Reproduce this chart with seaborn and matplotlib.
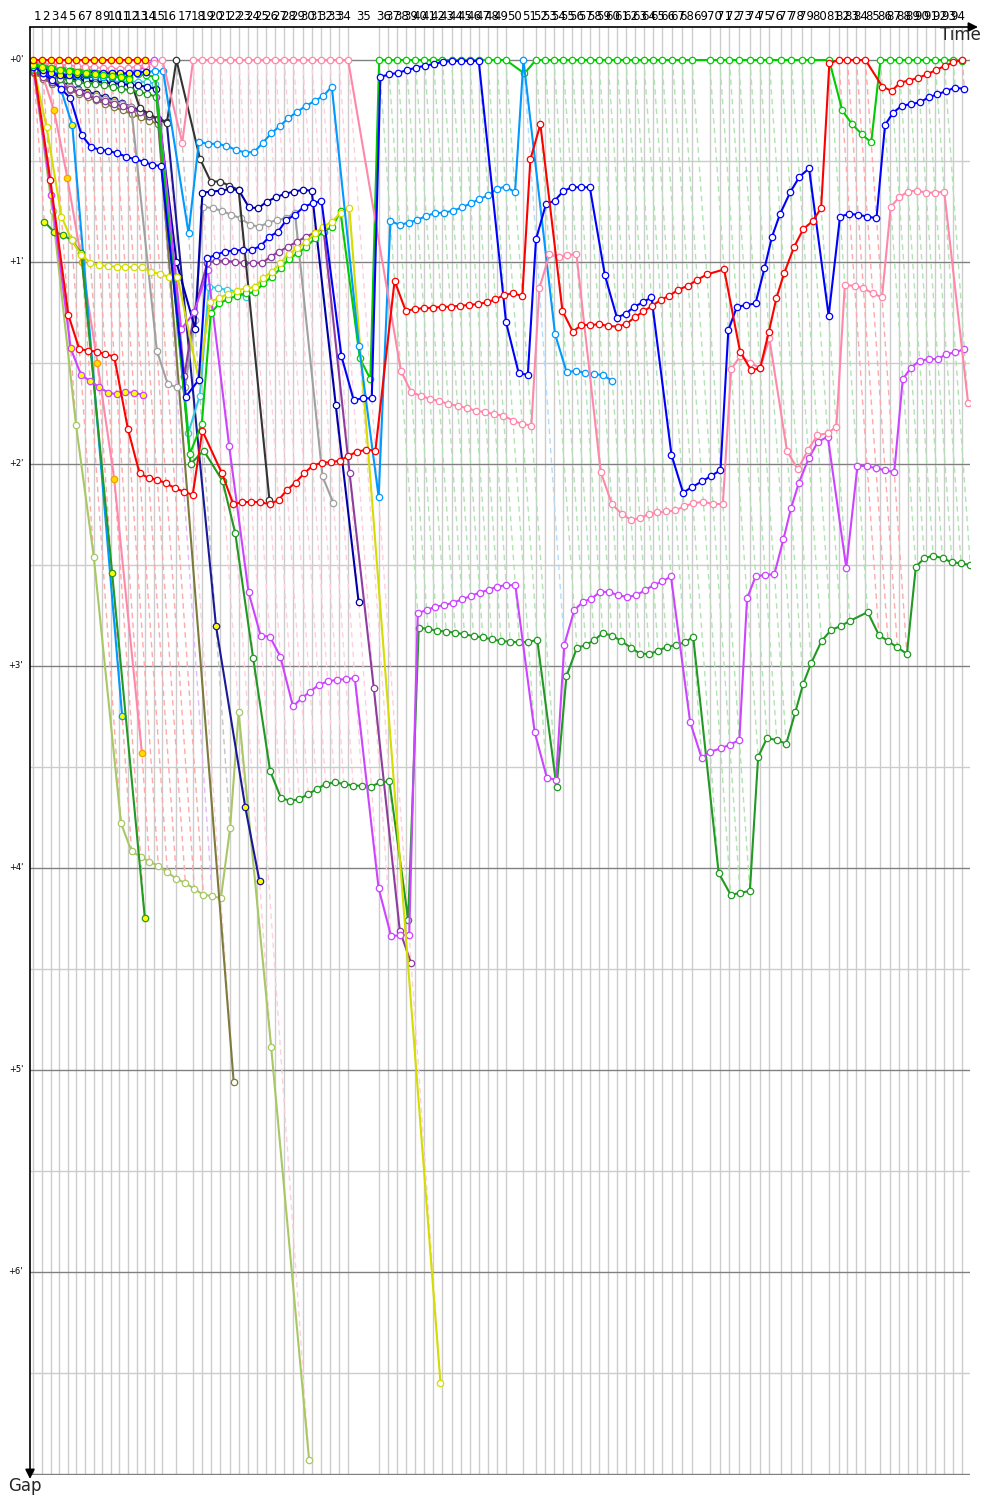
import matplotlib
matplotlib.use("Agg")
import matplotlib.pyplot as plt
import numpy as np
import pandas as pd
import seaborn as sns
from matplotlib.collections import LineCollection

# ---------------- data ----------------
# leader lap durations (seconds), laps 1..94
lap_seconds = [38.0,
               36.6, 36.5, 36.7, 36.6, 36.6, 36.5, 36.7, 36.6, 36.6, 36.5, 36.7, 36.6, 36.6, 36.6,
               60.0, 71.0,
               38.8, 38.9, 38.7, 38.8, 38.8, 38.9, 38.7, 38.8, 38.8, 38.8, 38.9, 38.7, 38.8, 38.8, 38.9, 38.7, 38.8,
               132.0,
               38.5, 38.4, 38.6, 38.5, 38.5, 38.4, 38.6, 38.5, 38.5, 38.4, 38.6, 38.5, 38.5, 38.5,
               75.0, 53.0,
               38.3, 38.2, 38.4, 38.3, 38.3, 38.2, 38.4, 38.3, 38.3, 38.2, 38.4, 38.3, 38.3, 38.3,
               45.0, 40.0, 42.5, 75.0, 43.5, 41.0, 39.0, 48.5, 41.5, 40.5, 50.0, 44.0, 43.5, 39.5, 78.0,
               41.0, 37.0, 38.3, 38.3, 64.0,
               38.7, 38.6, 38.8, 38.7, 38.7, 38.6, 38.8, 38.7, 38.7]

# gaps to leader (seconds), one value per lap starting at lap 0
olive_light = [3.0, 45.0, 108.4, 147.6, 226.7, 235.1, 236.6, 238.1, 239.4, 241.3, 243.2, 244.5,
               246.2, 248.0, 248.3, 249.0, 228.2, 193.8, 293.1, 415.8]
olive_brown = [4.0, 5.5, 7.0, 8.0, 9.0, 10.0, 11.0, 12.0, 13.0, 14.0, 15.0, 16.0, 17.0, 18.0, 19.0, 303.5]
pink_yellow = [2.0, 5.0, 15.0, 35.0, 60.0, 90.0, 124.5, 205.9]
lb_yellow = [2.0, 3.0, 5.0, 9.0, 19.3, 195.0]
fg_yellow = [48.0, 51.0, 52.0, 53.5, 57.4, 152.4, 254.9]
mag_yellow = [3.0, 40.0, 85.6, 93.6, 95.3, 97.2, 98.8, 99.3, 98.7, 98.8, 99.5]
navy_yellow = [3.0, 3.5, 6.4, 6.7, 7.4, 8.7, 9.4, 10.2, 10.9, 11.9, 12.9, 13.9, 14.9, 16.6, 17.5, 18.3,
               168.0, 222.0, 244.0]
grey = [3.0, 4.5, 6.0, 7.0, 8.0, 9.0, 10.0, 10.8, 11.6, 12.4, 13.2, 14.0,
        86.3, 96.3, 97.2, 97.2, 77.2,
        43.6, 44.0, 44.8, 46.0, 47.0, 49.0, 49.5, 48.3, 47.5, 47.0, 45.3, 123.7, 131.7]
purple = [3.5, 5.0, 6.5, 7.5, 8.5, 9.5, 10.5, 11.5, 12.2, 13.0, 13.8, 14.6, 15.5, 16.5, 17.5,
          94.0, 75.0,
          60.2, 59.6, 59.7, 59.9, 60.4, 60.2, 60.3, 58.4, 56.9, 55.4, 54.0, 52.5, 51.3, 50.0,
          122.8, 186.4, 258.6, 268.3]
teal = [2.0, 3.0, 4.0, 4.5, 5.0, 5.5, 6.0, 6.2, 6.4, 6.4, 6.5, 6.5, 6.4, 6.5, 7.0,
        110.7, 99.7, 67.3, 67.8, 68.3, 68.8, 70.5]
black = [2.0, 3.0, 4.0, 4.5, 5.0, 5.0, 5.0, 5.0, 5.0, 5.0, 5.0, 5.0,
         14.3, 16.0, 17.5, 18.8, 0.0, 29.4, 36.1, 36.1, 37.3, 38.6, 130.7]
navy = [2.5, 3.5, 4.5, 5.0, 5.5, 6.0, 6.0, 6.5, 6.5, 7.0, 7.0, 7.5, 7.5, 8.0, 8.5,
        60.0, 80.0,
        39.4, 39.1, 38.8, 38.4, 38.6, 43.8, 44.0, 42.1, 40.8, 39.8, 39.1, 38.6, 38.8,
        102.5, 161.0]
forest = [3.0, 4.0, 5.0, 5.5, 6.0, 6.5, 7.0, 7.0, 7.5, 8.0, 8.5, 9.0, 9.5, 10.0, 11.0,
          120.0, 116.0, 125.0,
          140.6, 177.7, 211.2, 219.3, 220.0, 219.6, 218.0, 216.6, 215.0, 214.6, 215.0, 215.5, 215.6, 215.8,
          214.5, 214.3, 255.4,
          168.6, 169.0, 169.5, 169.8, 170.1, 170.6, 171.1, 171.5, 172.1, 172.6, 172.8, 173.0, 172.8, 172.3,
          216.0, 183.0,
          174.6, 173.8, 172.3, 170.2, 171.0, 172.6, 174.6, 176.4, 176.4, 175.5, 174.3, 173.8, 173.0, 171.4,
          241.5, 248.0, 247.4, 246.8,
          207.0, 201.4, 202.0, 203.1, 193.6, 185.3, 179.1, 172.6, 169.3, 168.1, 166.6, 164.0,
          170.8, 172.6, 174.5, 176.4,
          150.5, 148.0, 147.2, 148.0, 149.2, 149.5, 150.0]
magenta = [1.0, 2.0, 2.5, 3.0, 3.0, 3.2, 3.4, 3.6, 3.8, 4.0, 4.0, 3.8, 3.0, 2.0,
           0.0, 80.0, 75.0,
           62.4, 114.8, 158.1, 171.0, 171.3, 177.2, 192.0, 189.6, 187.6, 185.6, 184.6, 184.1, 183.9, 183.6,
           246.0, 260.2, 260.0, 259.9,
           164.3, 163.4, 162.4, 161.9, 161.2, 160.2, 159.2, 158.2, 157.4, 156.4, 156.0, 156.0,
           199.6, 213.2, 213.8,
           173.7, 163.4, 161.0, 160.0, 158.0, 158.0, 159.0, 159.5, 159.0, 157.5, 156.0, 154.9, 153.4,
           196.6, 207.3, 205.5, 204.5, 203.4, 202.0,
           159.9, 153.3, 153.0, 152.7, 142.4, 133.2, 125.7, 118.3, 113.4, 111.9,
           150.8, 120.6, 120.6, 121.3, 121.8, 122.5,
           94.8, 91.4, 89.3, 88.9, 88.8, 87.4, 86.8, 85.9]
green = [1.0, 1.5, 2.0, 2.2, 2.5, 2.8, 3.0, 3.2, 3.5, 3.7, 4.0, 4.2, 4.3, 4.5, 5.0,
         117.0, 108.0, 75.2,
         72.3, 71.0, 70.0, 69.3, 69.0, 66.3, 64.4, 61.9, 59.0, 57.4, 55.5, 53.0, 51.0, 49.5,
         45.0, 88.6, 94.8,
         0.0, 0.0, 0.0, 0.0, 0.0, 0.0, 0.0, 0.0, 0.0, 0.0, 0.0, 0.0, 0.0, 0.0, 0.0,
         4.0,
         0.0, 0.0, 0.0, 0.0, 0.0, 0.0, 0.0, 0.0, 0.0, 0.0, 0.0, 0.0, 0.0, 0.0, 0.0,
         0.0, 0.0, 0.0, 0.0, 0.0, 0.0, 0.0, 0.0, 0.0, 0.0, 0.0, 0.0, 0.0, 0.0, 0.0,
         15.0, 19.0, 22.0, 24.5,
         0.0, 0.0, 0.0, 0.0, 0.0, 0.0, 0.0, 0.0, 0.0, 0.2]
yellow = [2.0, 20.0, 46.5, 53.5, 58.0, 60.2, 60.9, 61.2, 61.4, 61.4, 61.6, 61.6, 62.9, 63.6, 64.4, 64.4,
          95.0,
          71.8, 70.8, 69.5, 68.5, 67.8, 67.5, 64.8, 62.9, 60.4, 57.5, 55.9, 54.0, 51.5, 49.5, 48.0, 45.4, 44.0,
          392.9]
light_blue = [1.5, 2.5, 3.5, 4.0, 4.2, 4.4, 4.6, 4.8, 5.0, 5.0, 4.5, 4.0, 3.6, 3.5, 3.3, 3.2,
              51.5,
              24.3, 24.9, 24.9, 25.5, 26.7, 27.5, 27.3, 24.6, 21.8, 19.6, 17.3, 15.4, 13.7, 12.2, 10.7, 7.9,
              85.1, 129.8,
              47.8, 49.0, 48.3, 47.5, 46.3, 45.5, 45.3, 44.8, 43.8, 42.6, 41.4, 40.1, 38.3, 37.6, 39.3,
              0.0,
              81.4, 92.8, 92.3, 92.9, 93.3, 93.6, 95.3]
pink = [0.5, 1.0, 1.2, 1.4, 1.6, 1.8, 2.0, 2.2, 2.4, 2.6, 2.6, 2.4, 2.0, 1.5, 1.0,
        0.0, 24.6,
        0.0, 0.0, 0.0, 0.0, 0.0, 0.0, 0.0, 0.0, 0.0, 0.0, 0.0, 0.0, 0.0, 0.0, 0.0, 0.0, 0.0, 0.0,
        92.3, 98.7, 99.7, 100.7, 101.3, 102.2, 102.7, 103.4, 104.2, 104.6, 105.2, 105.6, 107.1, 108.1, 108.6,
        67.8, 57.7, 58.6, 57.9, 57.7,
        122.3, 131.9, 134.8, 136.6, 136.1, 134.9, 134.4, 134.1, 133.8, 132.6, 131.7, 131.2, 131.9, 131.9,
        91.9, 87.9, 89.9, 91.6, 82.7,
        116.1, 121.6, 115.8, 111.4, 110.9, 108.9,
        66.8, 67.1, 67.8, 69.3, 70.5,
        43.6, 40.8, 39.1, 38.8, 39.4, 39.4, 39.1,
        102.0]
blue = [1.5, 4.0, 6.0, 8.5,
        11.4, 22.3, 25.8, 26.7, 27.0, 27.7, 28.7, 29.5, 30.2, 31.2, 31.5,
        100.0, 95.0,
        58.9, 57.9, 56.9, 56.6, 56.4, 56.4, 55.2, 52.5, 51.0, 47.5, 46.0, 43.6, 42.6, 41.8,
        88.0, 101.0, 100.5, 100.5,
        5.0, 4.3, 3.8, 3.0, 2.3, 1.7, 1.2, 0.6, 0.3, 0.3, 0.3, 0.3,
        77.9, 92.9, 93.6,
        53.3, 42.8, 41.8, 39.0, 37.8, 37.8, 37.8,
        64.0, 76.5, 75.4, 73.3, 72.0, 70.5,
        117.3, 128.5, 126.9, 125.2, 123.6, 121.8,
        80.2, 73.3, 72.8, 72.3, 61.9, 52.5, 45.8, 39.3, 34.7, 32.2,
        76.0,
        46.5, 45.7, 46.0, 46.5, 47.0,
        19.3, 15.6, 13.6, 13.1, 12.6, 11.1, 10.2, 9.2, 8.2, 8.6]
red = [1.0, 35.6, 75.7, 85.9, 86.3, 86.6, 87.4, 88.1, 109.6, 122.8, 124.1, 124.7, 125.7, 127.2, 128.2, 129.2,
       110.1, 122.8, 131.9, 131.4, 131.2, 131.4, 131.9, 130.7, 127.7, 125.5, 122.8, 120.5, 119.6, 119.5,
       119.0, 117.6, 116.3, 115.8, 116.0,
       65.6, 74.5, 74.0, 73.7, 73.6, 73.3, 73.3, 73.0, 72.8, 72.5, 72.0, 71.1, 69.8, 69.3, 70.1,
       29.5, 19.1,
       74.5, 80.7, 78.7, 78.7, 78.5, 79.0, 79.2, 78.4, 76.4, 74.7, 73.0, 71.3, 70.0, 68.3, 67.0, 65.3, 63.7, 62.2,
       86.6, 92.1, 91.6, 80.7, 70.8, 63.4, 55.6, 50.3, 47.8, 44.0,
       1.0, 0.0, 0.0, 0.0, 0.0,
       7.9, 9.2, 6.7, 6.1, 5.3, 4.3, 3.0, 1.8, 0.7, 0.0]
blue_yellow = [2.0, 3.0, 4.0, 4.5, 4.5, 4.3, 4.2, 4.0, 4.0, 4.0, 4.0, 4.0, 3.8, 3.5]
green_yellow = [1.5, 2.0, 2.5, 3.0, 3.3, 3.6, 4.0, 4.2, 4.5, 4.8, 5.0, 5.5]
red_lead = [0.0, 0.0, 0.0, 0.0, 0.0, 0.0, 0.0, 0.0, 0.0, 0.0, 0.0, 0.0, 0.0, 0.0]

# ---------------- styles ----------------
draw_order = [
    ("olive_light", olive_light, "#a8c864", "white", None),
    ("olive_brown", olive_brown, "#7d7a3c", "white", None),
    ("pink_yellow", pink_yellow, "#ff88aa", "#ffdd00", "#ff9900"),
    ("lb_yellow", lb_yellow, "#0099ff", "#ffff00", None),
    ("fg_yellow", fg_yellow, "#229922", "#ffff00", None),
    ("mag_yellow", mag_yellow, "#cc44ff", "#ffff00", None),
    ("navy_yellow", navy_yellow, "#1a1a99", "#ffff00", None),
    ("grey", grey, "#a0a0a0", "white", None),
    ("purple", purple, "#8e3d9e", "white", None),
    ("teal", teal, "#33ccdd", "white", None),
    ("black", black, "#333333", "white", None),
    ("navy", navy, "#0000aa", "white", None),
    ("forest", forest, "#229922", "white", None),
    ("magenta", magenta, "#cc44ff", "white", None),
    ("green", green, "#00cc00", "white", None),
    ("yellow", yellow, "#d4dc00", "white", None),
    ("light_blue", light_blue, "#0099ff", "white", None),
    ("pink", pink, "#ff88aa", "white", None),
    ("blue", blue, "#0000ff", "white", None),
    ("red", red, "#ff0000", "white", None),
    ("blue_yellow", blue_yellow, "#0000ff", "#ffff00", None),
    ("green_yellow", green_yellow, "#00cc00", "#ffff00", None),
    ("red_lead", red_lead, "#ff0000", "#ffff00", None),
]
dash_colors = {"red_lead": "#ffa8a8", "red": "#ffa8a8", "pink": "#ffcfdb", "magenta": "#e6b8ff",
               "black": "#c4c4c4", "green": "#b0e4b0", "light_blue": "#b0dcff"}

lap_time = np.concatenate([[0.0], np.cumsum(lap_seconds)])
n_laps = len(lap_seconds)

rows = []
for order, (name, gaps, col, fill, edge) in enumerate(draw_order):
    for lap, g in enumerate(gaps):
        rows.append((name, order, lap, g, lap_time[lap] + g))
df = pd.DataFrame(rows, columns=["car", "order", "lap", "gap", "x"])

# ---------------- figure ----------------
sns.set_theme(style="white")
plt.rcParams["font.family"] = ["DejaVu Sans"]
fig = plt.figure(figsize=(10, 15), dpi=100)
ax = fig.add_axes([0.03, 1 - 1475 / 1500, 0.94, (1475 - 27) / 1500])

XMIN, XMAX = -12.77, 3987.2
YTOP, YBOT = -9.8, 420.3

# grid
for k in range(0, 15):
    g = k * 30
    ax.axhline(g, color="#808080" if k % 2 == 0 else "#cccccc", lw=1.0, zorder=0.6)
ax.vlines(lap_time, YTOP, YBOT, color="#cccccc", lw=1.0, zorder=0.5)

# lap lines (dashed diagonals) from leader to slowest car
segs, cols = [], []
for lap in range(n_laps + 1):
    sub = df[df["lap"] == lap]
    if sub.empty:
        continue
    lead = sub.sort_values(["gap", "order"], ascending=[True, False]).iloc[0]["car"]
    gmax = sub["gap"].max()
    t = lap_time[lap]
    segs.append([(t, 0.0), (t + gmax, gmax)])
    cols.append(dash_colors.get(lead, "#cccccc"))
lc = LineCollection(segs, colors=cols, linewidths=1.0, linestyles=(0, (4, 3)), zorder=1.0)
ax.add_collection(lc)

# series
for order, (name, gaps, col, fill, edge) in enumerate(draw_order):
    sub = df[df["car"] == name]
    sns.lineplot(data=sub, x="x", y="gap", sort=False, estimator=None, ax=ax,
                 color=col, linewidth=1.5, marker="o", markersize=4.6,
                 markerfacecolor=fill, markeredgecolor=edge if edge else col,
                 markeredgewidth=0.9, legend=False, zorder=2 + order * 0.01)

ax.set_xlim(XMIN, XMAX)
ax.set_ylim(YBOT, YTOP)
ax.set_xlabel("")
ax.set_ylabel("")
ax.set_xticks([])
ax.set_yticks([])
for s in ax.spines.values():
    s.set_visible(False)

# lap labels at top (centre of each lap interval)
for lap in range(1, n_laps + 1):
    mid = 0.5 * (lap_time[lap - 1] + lap_time[lap])
    ax.text(mid, -12.9, str(lap), ha="center", va="center", fontsize=8.5, color="black", clip_on=False)

# gap labels
for m in range(0, 7):
    ax.text(-42.0, m * 60, "+%d'" % m, ha="right", va="center", fontsize=6, color="black", clip_on=False)

# axes with arrows
ytop_f = 1 - 27 / 1500
ax.annotate("", xy=(0.978, ytop_f), xytext=(0.03, ytop_f), xycoords="figure fraction",
            textcoords="figure fraction",
            arrowprops=dict(arrowstyle="-|>", color="black", lw=1.2, mutation_scale=14,
                            shrinkA=0, shrinkB=0))
ax.annotate("", xy=(0.03, 1 - 1479 / 1500), xytext=(0.03, ytop_f), xycoords="figure fraction",
            textcoords="figure fraction",
            arrowprops=dict(arrowstyle="-|>", color="black", lw=1.2, mutation_scale=14,
                            shrinkA=0, shrinkB=0))
fig.text(0.960, 1 - 35 / 1500, "Time", ha="center", va="center", fontsize=12)
fig.text(0.025, 1 - 1486 / 1500, "Gap", ha="center", va="center", fontsize=12)

fig.savefig("out.png", dpi=100, facecolor="white")
